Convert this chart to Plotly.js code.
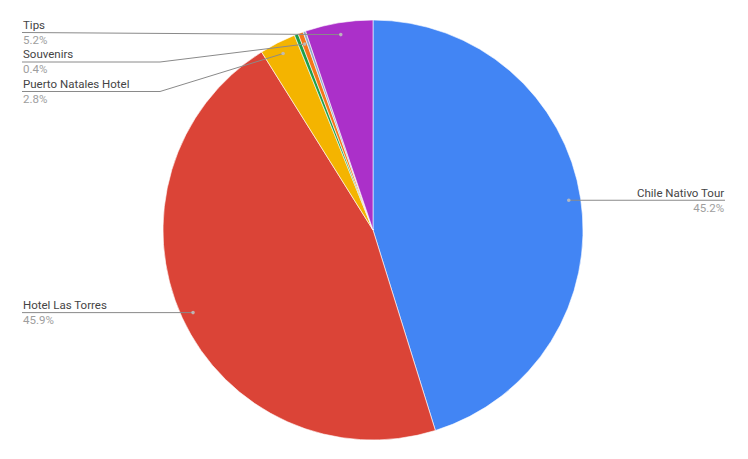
<!DOCTYPE html>
<html>
<head>
<meta charset="utf-8">
<script src="https://cdn.plot.ly/plotly-3.0.1.min.js"></script>
<style>html,body{margin:0;padding:0;background:#fff;}#chart{width:748px;height:459px;}</style>
</head>
<body>
<div id="chart"></div>
<script>
// ---- data ----
var sliceNames = ["Chile Nativo Tour", "Hotel Las Torres", "Puerto Natales Hotel", "Transport", "Souvenirs", "Food", "Tips"];
var sliceValues = [45.2, 45.9, 2.8, 0.3, 0.4, 0.2, 5.2];
var sliceColors = ["#4285F4", "#DB4437", "#F4B400", "#1E9E4A", "#F5761A", "#8FA8C8", "#AB30C9"];
var labelledNames = ["Chile Nativo Tour", "Hotel Las Torres", "Puerto Natales Hotel", "Souvenirs", "Tips"];

// ---- layout geometry (pixels) ----
var W = 748, H = 459;
var M = {l: 163, r: 165, t: 20, b: 19};
var pw = W - M.l - M.r, ph = H - M.t - M.b;
var cx = M.l + pw / 2, cy = M.t + ph / 2, R = Math.min(pw, ph) / 2;
var anchorK = 0.943;

// label placement (layout only)
var labelLayout = {
  "Chile Nativo Tour":    {side: "right", textX: 725, lineY: null, elbowX: null},
  "Hotel Las Torres":     {side: "left",  textX: 22,  lineY: null, elbowX: null},
  "Tips":                 {side: "left",  textX: 22,  lineY: 32.5, elbowX: null},
  "Souvenirs":            {side: "left",  textX: 22,  lineY: 62,   elbowX: 160},
  "Puerto Natales Hotel": {side: "left",  textX: 22,  lineY: 91.5, elbowX: 160}
};

function px2x(px) { return (px - M.l) / pw; }
function py2y(py) { return (M.t + ph - py) / ph; }

var total = sliceValues.reduce(function (a, b) { return a + b; }, 0);
var shapes = [], annotations = [];
var cum = 0;
sliceValues.forEach(function (v, i) {
  var frac = v / total;
  var mid = (cum + frac / 2) * 2 * Math.PI;
  cum += frac;
  var name = sliceNames[i];
  if (labelledNames.indexOf(name) < 0) return;
  var ax = cx + anchorK * R * Math.sin(mid);
  var ay = cy - anchorK * R * Math.cos(mid);
  var L = labelLayout[name];
  var lineY = (L.lineY === null) ? ay : L.lineY;
  var path;
  if (L.elbowX !== null) {
    path = "M" + px2x(L.textX) + "," + py2y(lineY) + " L" + px2x(L.elbowX) + "," + py2y(lineY) + " L" + px2x(ax) + "," + py2y(ay);
  } else {
    path = "M" + px2x(L.textX) + "," + py2y(lineY) + " L" + px2x(ax) + "," + py2y(ay);
  }
  shapes.push({type: "path", xref: "paper", yref: "paper", path: path, line: {color: "#8a8a8a", width: 1}});
  shapes.push({type: "circle", xref: "paper", yref: "paper", xsizemode: "pixel", ysizemode: "pixel",
    xanchor: px2x(ax), yanchor: py2y(ay), x0: -1.8, x1: 1.8, y0: -1.8, y1: 1.8,
    fillcolor: "rgba(190,190,190,0.9)", line: {width: 0}});
  var xa = L.side === "right" ? "right" : "left";
  annotations.push({xref: "paper", yref: "paper", x: px2x(L.textX), y: py2y(lineY), xanchor: xa, yanchor: "middle",
    align: xa, borderpad: 0,
    text: name + "<br><span style=\"color:#9e9e9e\">" + v.toFixed(1) + "%</span>",
    showarrow: false, font: {family: "Roboto, Arial, sans-serif", size: 11.5, color: "#444444"}});
});

var trace = {
  type: "pie",
  labels: sliceNames,
  values: sliceValues,
  sort: false,
  direction: "clockwise",
  rotation: 0,
  textinfo: "none",
  hoverinfo: "label+percent",
  marker: {colors: sliceColors, line: {color: "#ffffff", width: 0.6}},
  domain: {x: [0, 1], y: [0, 1]}
};

var layout = {
  width: W, height: H,
  margin: M,
  showlegend: false,
  paper_bgcolor: "#ffffff",
  plot_bgcolor: "#ffffff",
  font: {family: "Roboto, Arial, sans-serif"},
  shapes: shapes,
  annotations: annotations
};

Plotly.newPlot("chart", [trace], layout, {displayModeBar: false, staticPlot: true});
</script>
</body>
</html>
